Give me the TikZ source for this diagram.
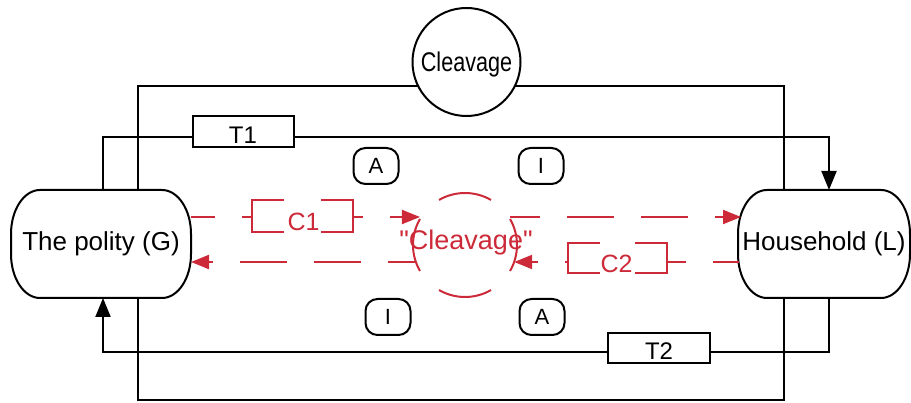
\documentclass[tikz,border=0pt]{standalone}
\usepackage{fontspec}
\setmainfont{Liberation Sans}[Ligatures=TeXOff]
\usetikzlibrary{arrows.meta,calc}
\definecolor{cred}{RGB}{204,42,56}

% outline of an agent box: a rectangle with elliptical corners
\newcommand\agentoutline[1]{%
  \draw[line] ([xshift=29pt]#1.north west) -- ([xshift=-29pt]#1.north east)
    arc[start angle=90, end angle=0, x radius=29pt, y radius=44pt]
    -- ([yshift=44pt]#1.south east)
    arc[start angle=0, end angle=-90, x radius=29pt, y radius=44pt]
    -- ([xshift=29pt]#1.south west)
    arc[start angle=270, end angle=180, x radius=29pt, y radius=44pt]
    -- ([yshift=-44pt]#1.north west)
    arc[start angle=180, end angle=90, x radius=29pt, y radius=44pt]
    -- cycle;}

\begin{document}
\begin{tikzpicture}[x=1pt, y=1pt,
  line/.style={line width=2pt, black},
  redline/.style={line width=2pt, cred},
  dashflow/.style={redline, dash pattern=on 47pt off 27pt},
  redtip/.style={-{Triangle[length=18pt, width=14pt]}},
  blacktip/.style={-{Triangle[length=19pt, width=15pt]}},
  agent/.style={fill=white, inner sep=0pt, outer sep=0pt, minimum height=108pt,
    font=\fontsize{26pt}{30pt}\selectfont},
  tbox/.style={draw, line width=2pt, fill=white, inner sep=0pt, outer sep=0pt,
    minimum width=101pt, minimum height=31pt},
  tlabel/.style={inner sep=0pt, font=\fontsize{24pt}{28pt}\selectfont},
  tag/.style={draw, line width=2pt, rounded corners=12pt, inner sep=0pt,
    minimum width=45pt, minimum height=36pt, font=\fontsize{22pt}{26pt}\selectfont},
  cbox/.style={draw=cred, line width=2pt, fill=white, inner sep=0pt, outer sep=0pt},
  cgap/.style={fill=white, inner sep=0pt, outer sep=0pt},
  clabel/.style={inner sep=0pt, text=cred, font=\fontsize{25pt}{28pt}\selectfont}]

\useasboundingbox (0,0) rectangle (911,402);

% frame joining the two sides through the cleavage
\coordinate (fnw) at (138,316);
\coordinate (fse) at (784,2);
\draw[line] (fnw) rectangle (fse);

% cleavage circle on top
\node[circle, draw, line width=2pt, fill=white, inner sep=0pt, outer sep=0pt,
  minimum size=108pt] (top) at (466.5,340) {};
\node[inner sep=0pt] (toptxt) at ([yshift=-3pt]top.center)
  {\scalebox{0.8}[1]{\fontsize{27pt}{30pt}\selectfont Cleavage}};

% the two agents
\node[agent, minimum width=180pt] (polity) at (101,158) {The polity (G)};
\node[agent, minimum width=172pt] (house) at (824,158) {Household (L)};
\agentoutline{polity}
\agentoutline{house}

% transactions
\draw[line, blacktip] ([xshift=2pt]polity.north) -- ++(0,53) -| ([xshift=5pt]house.north);
\draw[line, blacktip] ([xshift=5pt]house.south) -- ++(0,-54) -| ([xshift=2pt]polity.south);
\node[tbox] (t1) at (243,270.5) {};
\node[tlabel] (t1txt) at ([yshift=-4pt]t1.center) {T1};
\node[tbox, minimum width=102pt, minimum height=30pt] (t2) at (659,54) {};
\node[tlabel] (t2txt) at ([yshift=-3pt]t2.center) {T2};

% adaptation / integration tags
\node[tag] (a1) at (376,236) {A};
\node[tag] (i1) at (541,236) {I};
\node[tag] (i2) at (388,85) {I};
\node[tag] (a2) at (542,85) {A};

% the inner, red "cleavage"
\node[circle, inner sep=0pt, outer sep=0pt, minimum size=104pt] (mid) at (465,157) {};
\node[inner sep=0pt, text=cred, font=\fontsize{27pt}{30pt}\selectfont]
  (midtxt) at ([yshift=2pt, xshift=1pt]mid.center) {"Cleavage"};
\foreach \s in {330,60,150,240}
  \draw[redline] (mid.\s) arc[start angle=\s, delta angle=60, radius=52pt];

% red flows between the agents and the cleavage
\coordinate (pu) at ([yshift=27pt]polity.east);
\coordinate (pl) at ([yshift=-18pt]polity.east);
\coordinate (hu) at ([yshift=27pt, xshift=3pt]house.west);
\coordinate (hl) at ([yshift=-18pt, xshift=1pt]house.west);
\draw[dashflow, dash phase=23pt, redtip] (pu) -- (pu -| mid.150);
\draw[dashflow, dash phase=19pt, redtip] (pl -| mid.199) -- (pl);
\draw[dashflow, dash phase=17pt, redtip] (hu -| mid.30) -- (hu);
\draw[dashflow, dash phase=21pt, redtip] (hl) -- (hl -| mid.341);

% C1 and C2 boxes on the flows
\node[cbox, minimum width=101pt, minimum height=32pt] (c1) at (302.5,186) {};
\node[cgap, minimum width=37pt, minimum height=36pt] (c1gap) at (c1.center) {};
\node[clabel] (c1txt) at ([yshift=-6pt, xshift=1pt]c1.center) {C1};
\node[cbox, minimum width=99pt, minimum height=30pt] (c2) at (617.5,144) {};
\node[cgap, minimum width=35pt, minimum height=34pt] (c2gap) at (c2.center) {};
\node[clabel] (c2txt) at ([yshift=-6pt, xshift=-1pt]c2.center) {C2};
\end{tikzpicture}
\end{document}
